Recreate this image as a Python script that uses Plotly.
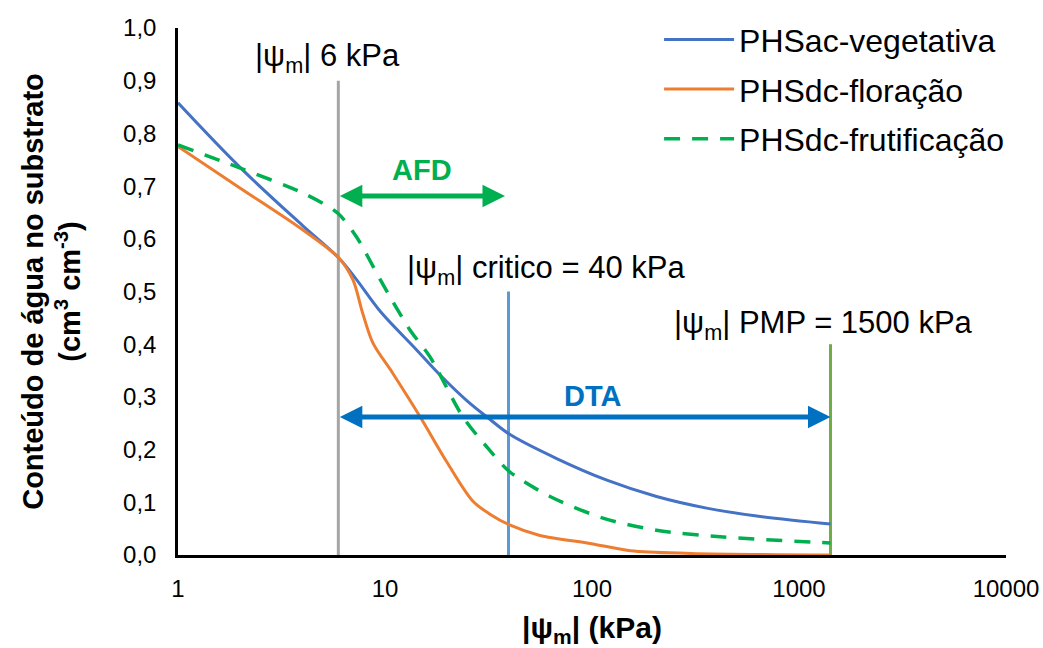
import math
import plotly.graph_objects as go

# Data
blue_x = [1, 2, 4, 6, 7.3, 9.5, 14, 18.4, 25, 32, 40, 67.5, 118, 205, 358, 625, 1420]
blue_y = [0.858, 0.735, 0.625, 0.563, 0.522, 0.462, 0.392, 0.342, 0.292, 0.258, 0.229, 0.183, 0.142, 0.111, 0.089, 0.074, 0.059]

orange_x = [1, 2, 4, 6, 7, 7.8, 8.75, 10.9, 14.8, 20, 26.6, 32, 40, 56, 98, 153, 300, 1420]
orange_y = [0.775, 0.696, 0.617, 0.563, 0.522, 0.459, 0.402, 0.345, 0.262, 0.175, 0.102, 0.078, 0.057, 0.037, 0.022, 0.008, 0.003, 0.0]

green_x = [1, 2, 4, 5.9, 7.3, 9.5, 13.2, 16.5, 23.8, 32, 40, 62.7, 113, 205, 431, 1420]
green_y = [0.778, 0.734, 0.687, 0.649, 0.603, 0.522, 0.427, 0.376, 0.262, 0.199, 0.158, 0.111, 0.070, 0.047, 0.034, 0.023]

series_names = ["PHSac-vegetativa", "PHSdc-floração", "PHSdc-frutificação"]

# Reference lines: (x, top y)
ref_x = [5.95, 39.5, 1420]
ref_top = [0.90, 0.50, 0.40]
ref_colors = ["#A5A5A5", "#5B9BD5", "#70AD47"]

afd_range = [5.95, 38]
afd_y = 0.681
dta_range = [5.95, 1420]
dta_y = 0.262

x_ticks = [1, 10, 100, 1000, 10000]
x_ticktext = ["1", "10", "100", "1000", "10000"]
y_ticks = [0.0, 0.1, 0.2, 0.3, 0.4, 0.5, 0.6, 0.7, 0.8, 0.9, 1.0]

FONT = "Liberation Sans, Arial, sans-serif"

fig = go.Figure()

for xv, top, col in zip(ref_x, ref_top, ref_colors):
    fig.add_trace(go.Scatter(x=[xv, xv], y=[0, top], mode="lines",
                             line=dict(color=col, width=3), showlegend=False,
                             hoverinfo="skip"))

fig.add_trace(go.Scatter(x=blue_x, y=blue_y, mode="lines", name=series_names[0],
                         line=dict(color="#4472C4", width=3, shape="spline", smoothing=1.0),
                         legendgroup="a"))
fig.add_trace(go.Scatter(x=orange_x, y=orange_y, mode="lines", name=series_names[1],
                         line=dict(color="#ED7D31", width=3, shape="spline", smoothing=0.9),
                         legendgroup="b"))
fig.add_trace(go.Scatter(x=green_x, y=green_y, mode="lines", name=series_names[2],
                         line=dict(color="#00B050", width=3.5, dash="16px,12px", shape="spline", smoothing=0.8),
                         legendgroup="c"))

annos = []
# arrows
annos.append(dict(x=math.log10(afd_range[1]), y=afd_y, ax=math.log10(afd_range[0]), ay=afd_y,
                  xref="x", yref="y", axref="x", ayref="y", text="", showarrow=True,
                  arrowside="end+start", arrowhead=2, arrowsize=0.9, arrowwidth=5,
                  arrowcolor="#00B050"))
annos.append(dict(x=math.log10(dta_range[1]), y=dta_y, ax=math.log10(dta_range[0]), ay=dta_y,
                  xref="x", yref="y", axref="x", ayref="y", text="", showarrow=True,
                  arrowside="end+start", arrowhead=2, arrowsize=0.9, arrowwidth=5,
                  arrowcolor="#0070C0"))
# labels
annos.append(dict(x=1.179, y=0.731, xref="x", yref="y", text="<b>AFD</b>", showarrow=False,
                  font=dict(family=FONT, size=29, color="#00B050")))
annos.append(dict(x=2.005, y=0.302, xref="x", yref="y", text="<b>DTA</b>", showarrow=False,
                  font=dict(family=FONT, size=29, color="#0070C0")))
annos.append(dict(x=0.362, y=0.943, xref="x", yref="y", xanchor="left", yanchor="middle",
                  text="|ψ<sub>m</sub>| 6 kPa", showarrow=False,
                  font=dict(family=FONT, size=31, color="black")))
annos.append(dict(x=1.097, y=0.541, xref="x", yref="y", xanchor="left", yanchor="middle",
                  text="|ψ<sub>m</sub>| critico = 40 kPa", showarrow=False,
                  font=dict(family=FONT, size=31, color="black")))
annos.append(dict(x=2.386, y=0.436, xref="x", yref="y", xanchor="left", yanchor="middle",
                  text="|ψ<sub>m</sub>| PMP = 1500 kPa", showarrow=False,
                  font=dict(family=FONT, size=31, color="black")))

fig.update_layout(
    width=1043, height=648,
    margin=dict(l=178, r=37, t=28, b=93, autoexpand=False),
    paper_bgcolor="white", plot_bgcolor="white",
    separators=",.",
    font=dict(family=FONT, size=24, color="black"),
    annotations=annos,
    legend=dict(x=0.581, y=1.03, xanchor="left", yanchor="top",
                font=dict(family=FONT, size=32, color="black"),
                itemwidth=70, tracegroupgap=5, bgcolor="rgba(0,0,0,0)"),
    xaxis=dict(type="log", range=[0, 4], tickvals=x_ticks, ticktext=x_ticktext,
               showgrid=False, zeroline=False, showline=True, linecolor="black",
               linewidth=2.5, ticks="", tickfont=dict(size=24), ticklabelstandoff=10,
               automargin=False,
               title=dict(text="<b>|ψ<sub>m</sub>| (kPa)</b>", font=dict(size=30), standoff=27)),
    yaxis=dict(range=[0, 1.0], tickvals=y_ticks, tickformat=".1f",
               showgrid=False, zeroline=False, showline=True, linecolor="black",
               linewidth=2.5, ticks="", tickfont=dict(size=24), ticklabelstandoff=14,
               automargin=False,
               title=dict(text="<b>Conteúdo de água no substrato<br>(cm<sup>3</sup> cm<sup>-3</sup>)</b>",
                          font=dict(size=29), standoff=34)),
)

fig.write_html("out.html", config={"displayModeBar": False},
               post_script="document.body.style.margin='0';document.body.style.overflow='hidden';")
